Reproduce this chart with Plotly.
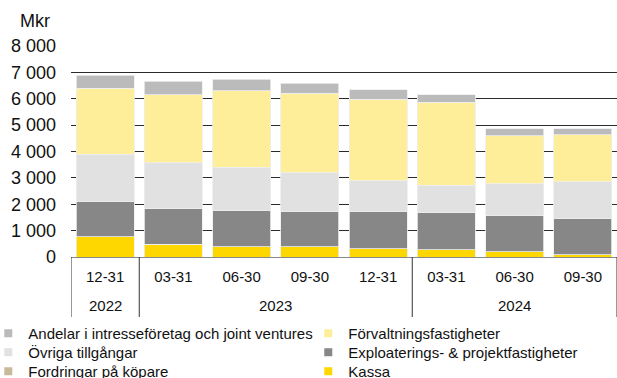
import plotly.graph_objects as go

dates = ["12-31", "03-31", "06-30", "09-30", "12-31", "03-31", "06-30", "09-30"]
years = ["2022", "2023", "2023", "2023", "2023", "2024", "2024", "2024"]

kassa = [760, 490, 390, 390, 310, 280, 200, 90]
fordringar = [0, 0, 0, 0, 0, 0, 0, 0]
exploatering = [1330, 1340, 1360, 1320, 1410, 1410, 1360, 1360]
ovriga = [1800, 1740, 1650, 1480, 1180, 1040, 1220, 1400]
forvaltning = [2500, 2580, 2910, 3020, 3080, 3130, 1820, 1790]
andelar = [500, 520, 430, 380, 360, 300, 260, 220]

y_ticks = [0, 1000, 2000, 3000, 4000, 5000, 6000, 7000, 8000]

series = [
    ("Kassa", kassa, "#FFD700"),
    ("Fordringar på köpare", fordringar, "#C9B99B"),
    ("Exploaterings- & projektfastigheter", exploatering, "#878787"),
    ("Övriga tillgångar", ovriga, "#E1E1E1"),
    ("Förvaltningsfastigheter", forvaltning, "#FFEE99"),
    ("Andelar i intresseföretag och joint ventures", andelar, "#BBBBBB"),
]

FONT = "Liberation Sans, Arial, sans-serif"
W, H = 617, 378
ML, MR, MT, MB = 71, 0, 46, 121
PW, PH = W - ML - MR, H - MT - MB


def px_x(p):
    return (p - ML) / PW


def px_y(p):
    return (H - MB - p) / PH


x = list(range(len(dates)))

fig = go.Figure()
for name, vals, col in series:
    fig.add_trace(go.Bar(
        x=x, y=vals, name=name, marker_color=col,
        marker_line=dict(color="#EDEDED", width=0.8),
        showlegend=False,
    ))

# legend: two columns, three rows (top of stack first)
legend_order = [s for s in reversed(series)]
col_x = [28.3, 348.3]
row_y = [333.5, 352.5, 371.5]
legend_layouts = {}
for k, (name, vals, col) in enumerate(legend_order):
    lname = "legend" if k == 0 else f"legend{k + 1}"
    r, c = divmod(k, 2)
    fig.add_trace(go.Scatter(
        x=[None], y=[None], mode="markers", name=name, legend=lname,
        marker=dict(symbol="square", size=8, color=col),
    ))
    legend_layouts[lname] = dict(
        x=px_x(col_x[c] - 40), xanchor="left",
        y=px_y(row_y[r]), yanchor="middle",
        orientation="h", bgcolor="rgba(0,0,0,0)",
        font=dict(size=15, color="#111", family=FONT),
        itemwidth=30,
    )

# year group labels and dividers
groups = []
for i, yv in enumerate(years):
    if not groups or groups[-1][0] != yv:
        groups.append([yv, i, i])
    else:
        groups[-1][2] = i

for yv, a, b in groups:
    fig.add_annotation(x=(a + b) / 2, y=0, xref="x", yref="paper",
                       text=yv, showarrow=False, yanchor="middle",
                       yshift=-48, font=dict(size=15, color="#111", family=FONT))
bounds = [groups[0][1] - 0.5] + [g[2] + 0.5 for g in groups]
for bx in bounds:
    fig.add_shape(type="line", x0=bx, x1=bx, xref="x", yref="paper",
                  y0=0, y1=px_y(317), line=dict(color="#333", width=1))

fig.add_annotation(x=px_x(52), y=px_y(21), xref="paper", yref="paper", text="Mkr",
                   showarrow=False, xanchor="right", yanchor="middle",
                   font=dict(size=18, color="#111", family=FONT))

fig.update_layout(
    width=W, height=H,
    margin=dict(l=ML, r=MR, t=MT, b=MB, autoexpand=False),
    barmode="stack", bargap=0.15,
    plot_bgcolor="white", paper_bgcolor="white",
    font=dict(family=FONT, color="#111"),
    separators=", ",
    xaxis=dict(range=[-0.5, len(dates) - 0.5], tickvals=x, ticktext=dates,
               showgrid=False, zeroline=False, showline=True,
               linecolor="#898989", linewidth=1, ticks="outside", ticklen=6,
               tickcolor="rgba(0,0,0,0)",
               tickfont=dict(size=15, color="#111", family=FONT)),
    yaxis=dict(range=[0, 8000], tickvals=y_ticks, separatethousands=True,
               tickformat=",d",
               showgrid=True, gridcolor="#2b2b2b", gridwidth=1,
               zeroline=False, showline=False, ticks="",
               ticklabelstandoff=14,
               tickfont=dict(size=18, color="#111", family=FONT)),
    **legend_layouts,
)

fig.write_html("out.html")
